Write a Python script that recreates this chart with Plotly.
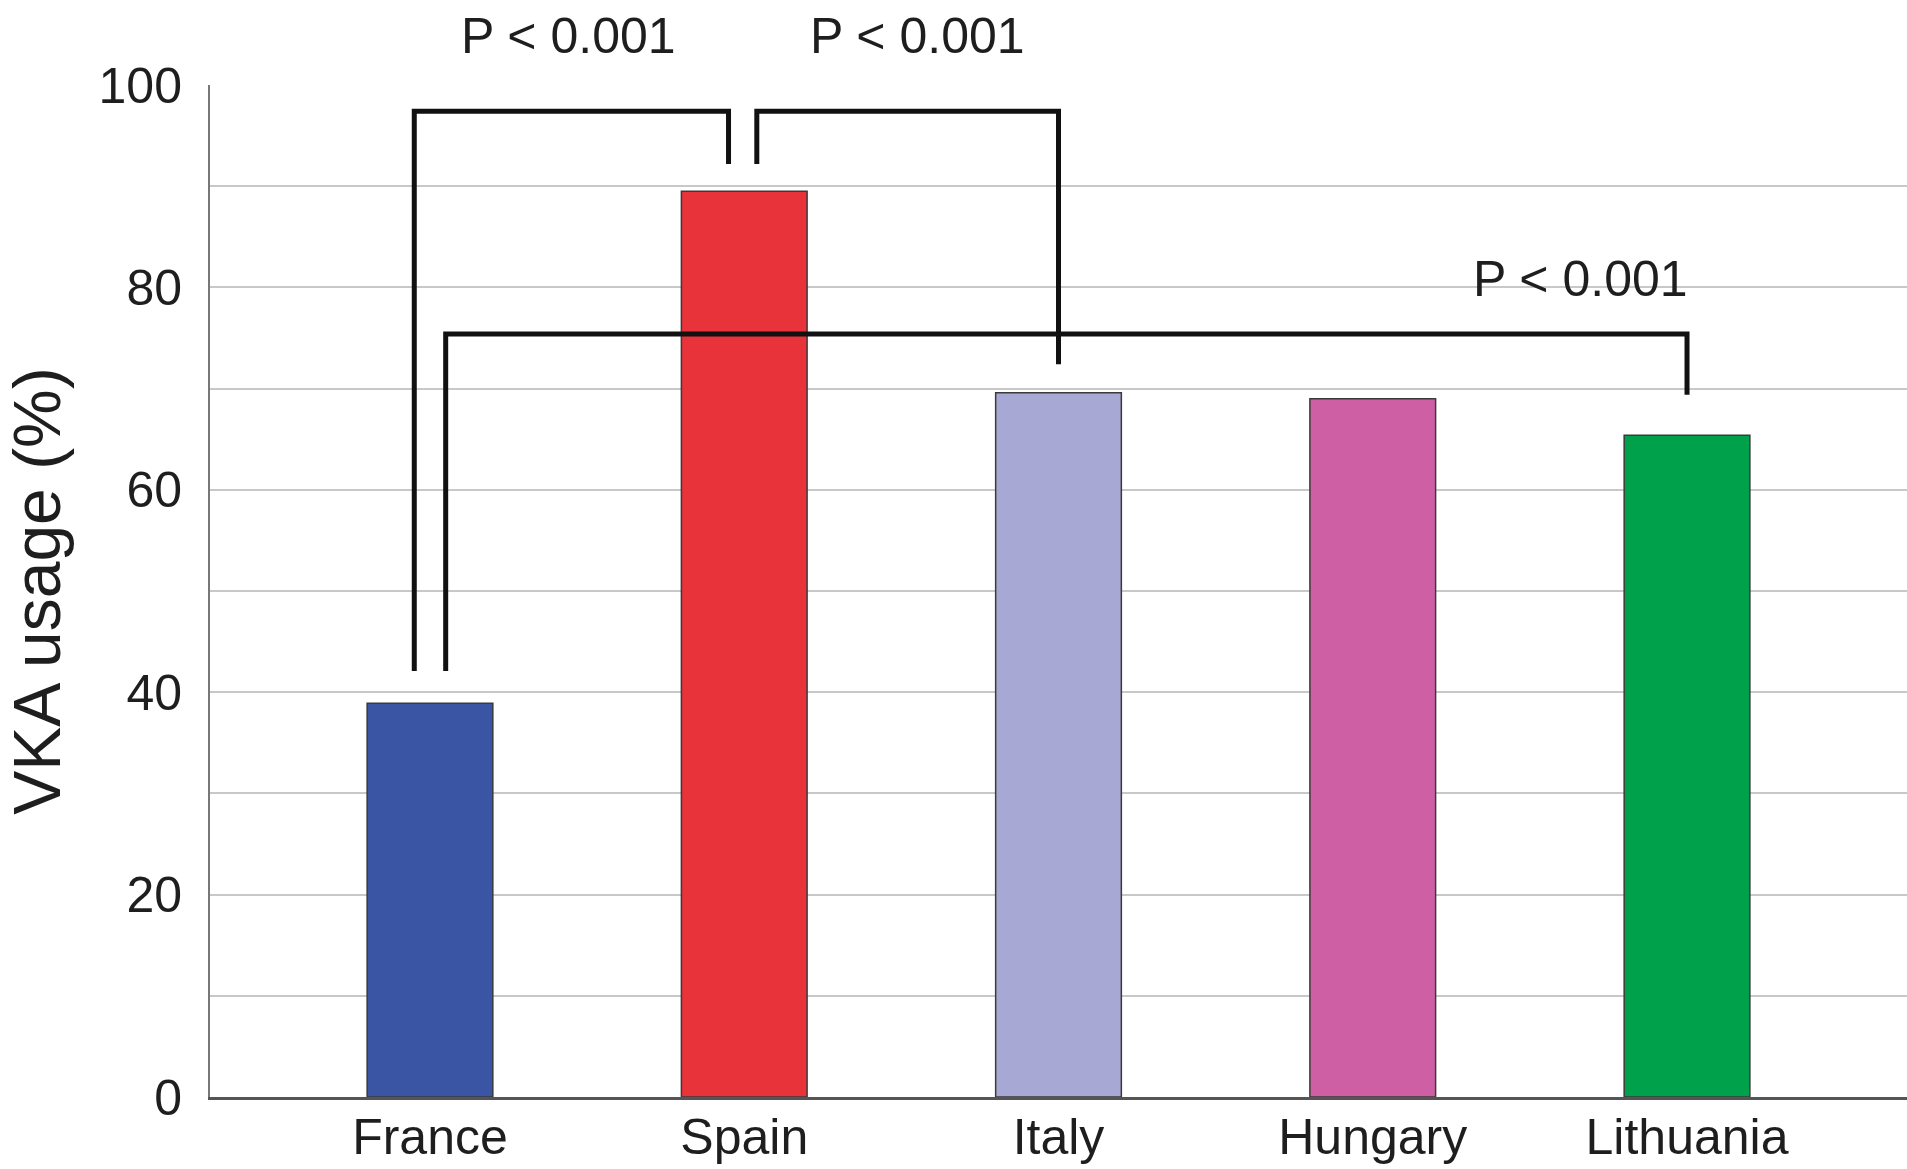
import plotly.graph_objects as go

# VKA usage by country
countries = ["France", "Spain", "Italy", "Hungary", "Lithuania"]
vka_usage = [38.9, 89.5, 69.6, 69.0, 65.4]
bar_colors = ["#3a55a3", "#e8333b", "#a8a8d4", "#cf5fa5", "#00a14b"]

# Significance brackets: (x_left, x_right, y_left_end, y_right_end, y_top)
bracket_x_left = [-0.05, 1.04, 0.05]
bracket_x_right = [0.95, 2.0, 4.0]
bracket_y_left = [42.1, 92.2, 42.1]
bracket_y_right = [92.2, 72.4, 69.4]
bracket_y_top = [97.4, 97.4, 75.4]

# P-value labels
p_labels = ["P < 0.001", "P < 0.001", "P < 0.001"]
p_label_x = [0.44, 1.55, 3.66]
p_label_y = [104.8, 104.8, 80.8]

Y_RANGE = [0, 100]
FONT = "Liberation Sans, Arial, sans-serif"
TEXT_COLOR = "#1e1e1e"

fig = go.Figure(
    go.Bar(
        x=countries,
        y=vka_usage,
        marker=dict(color=bar_colors, line=dict(color="#3a3a3a", width=1.5)),
        width=0.4,
    )
)

shapes = []
for xl, xr, yl, yr, yt in zip(bracket_x_left, bracket_x_right,
                               bracket_y_left, bracket_y_right, bracket_y_top):
    path = f"M {xl},{yl} L {xl},{yt} L {xr},{yt} L {xr},{yr}"
    shapes.append(dict(type="path", path=path, xref="x", yref="y",
                       line=dict(color="#111111", width=5), layer="above"))

# labels may sit above the axis range, so place them on the paper scale
annotations = [
    dict(x=x, y=(y - Y_RANGE[0]) / (Y_RANGE[1] - Y_RANGE[0]), xref="x", yref="paper",
         xanchor="center", yanchor="middle",
         text=t, showarrow=False,
         font=dict(family=FONT, size=50, color=TEXT_COLOR))
    for t, x, y in zip(p_labels, p_label_x, p_label_y)
]

fig.update_layout(
    width=1907,
    height=1169,
    margin=dict(l=210, r=0, t=85, b=72),
    paper_bgcolor="white",
    plot_bgcolor="white",
    showlegend=False,
    shapes=shapes,
    annotations=annotations,
    font=dict(family=FONT, color=TEXT_COLOR),
    xaxis=dict(
        range=[-0.7, 4.7],
        automargin=False,
        showgrid=False,
        showline=True,
        linecolor="#555555",
        linewidth=3,
        ticks="",
        tickfont=dict(family=FONT, size=50, color=TEXT_COLOR),
        ticklabelstandoff=-6,
    ),
    yaxis=dict(
        range=Y_RANGE,
        automargin=False,
        dtick=20,
        showgrid=True,
        gridcolor="#c8c8c8",
        gridwidth=2,
        minor=dict(dtick=10, showgrid=True, gridcolor="#c8c8c8", gridwidth=2),
        showline=True,
        linecolor="#777777",
        linewidth=2,
        ticks="",
        zeroline=False,
        tickfont=dict(family=FONT, size=50, color=TEXT_COLOR),
        ticklabelstandoff=16,
        title=dict(text="VKA usage (%)", font=dict(family=FONT, size=66, color=TEXT_COLOR),
                   standoff=16),
    ),
)

fig.write_html("out.html")
